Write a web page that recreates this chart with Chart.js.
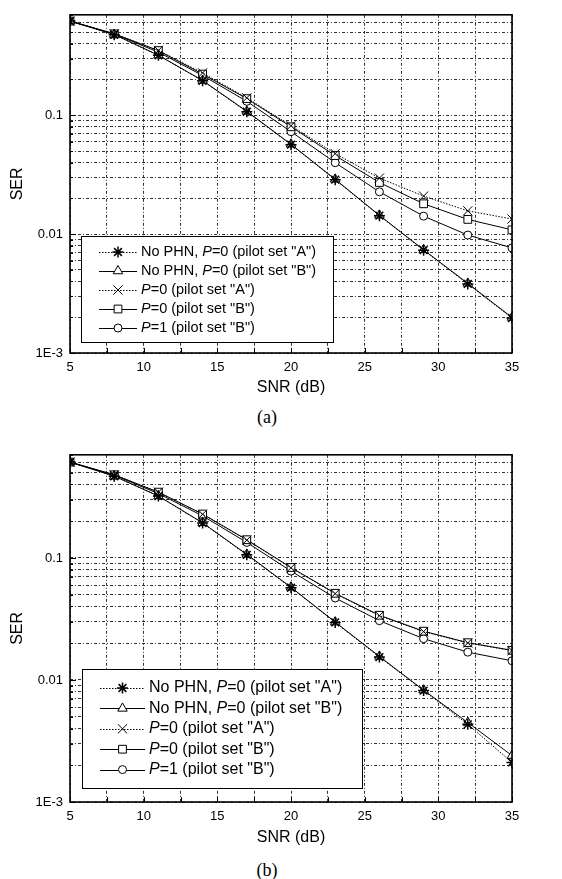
<!DOCTYPE html>
<html lang="en">
<head>
<meta charset="UTF-8">
<title>SER vs SNR</title>
<script src="https://cdn.jsdelivr.net/npm/chart.js"></script>
<style>
    body {
        margin: 0;
        background: #ffffff;
        width: 562px;
        height: 879px;
        position: relative;
        overflow: hidden;
        font-family: "Liberation Sans", Arial, sans-serif;
    }
    .box {
        position: absolute;
        left: 0;
        width: 562px;
    }
    #boxA { top: 0; height: 400px; }
    #boxB { top: 440px; height: 410px; }
    .caption {
        position: absolute;
        font-family: "Liberation Serif", "Times New Roman", serif;
        font-size: 18px;
        width: 60px;
        text-align: center;
        line-height: 20px;
    }
    #capA { left: 237px; top: 407px; }
    #capB { left: 237px; top: 860px; }
</style>
</head>
<body>
<div class="box" id="boxA"><canvas id="chartA"></canvas></div>
<div class="caption" id="capA">(a)</div>
<div class="box" id="boxB"><canvas id="chartB"></canvas></div>
<div class="caption" id="capB">(b)</div>

<script>
// SNR points (dB)
const snr = [5, 8, 11, 14, 17, 20, 23, 26, 29, 32, 35];

// figure (a)
const a_noPhnA = [0.62, 0.476, 0.319, 0.195, 0.107, 0.0566, 0.0287, 0.0143, 0.00733, 0.00381, 0.00197];
const a_noPhnB = [0.62, 0.478, 0.320, 0.196, 0.108, 0.0570, 0.0289, 0.0144, 0.00738, 0.00385, 0.00199];
const a_p0A    = [0.62, 0.485, 0.351, 0.227, 0.140, 0.0816, 0.0476, 0.0296, 0.0209, 0.0157, 0.0134];
const a_p0B    = [0.62, 0.484, 0.350, 0.222, 0.138, 0.0800, 0.0458, 0.0272, 0.0180, 0.0133, 0.01086];
const a_p1B    = [0.62, 0.482, 0.340, 0.216, 0.131, 0.0728, 0.0399, 0.0227, 0.01417, 0.00982, 0.00766];

// figure (b)
const b_noPhnA = [0.61, 0.467, 0.321, 0.193, 0.106, 0.0570, 0.0296, 0.0154, 0.00819, 0.00433, 0.00211];
const b_noPhnB = [0.61, 0.468, 0.322, 0.194, 0.107, 0.0575, 0.0298, 0.0156, 0.00825, 0.00448, 0.00240];
const b_p0A    = [0.61, 0.480, 0.346, 0.228, 0.140, 0.0830, 0.0510, 0.0336, 0.0249, 0.0201, 0.0174];
const b_p0B    = [0.61, 0.480, 0.346, 0.229, 0.141, 0.0835, 0.0513, 0.0339, 0.0251, 0.0202, 0.0175];
const b_p1B    = [0.61, 0.477, 0.337, 0.221, 0.134, 0.0780, 0.0470, 0.0306, 0.0218, 0.0169, 0.01436];

// axis ticks / gridlines
const xGrid = [5, 7.5, 10, 12.5, 15, 17.5, 20, 22.5, 25, 27.5, 30, 32.5, 35];
const xLabels = ['5', '', '10', '', '15', '', '20', '', '25', '', '30', '', '35'];
const yGrid = [0.001, 0.002, 0.003, 0.004, 0.005, 0.006, 0.007, 0.008, 0.009,
               0.01, 0.02, 0.03, 0.04, 0.05, 0.06, 0.07, 0.08, 0.09,
               0.1, 0.2, 0.3, 0.4, 0.5, 0.6, 0.7];
const yLabels = ['1E-3', '', '', '', '', '', '', '', '',
                 '0.01', '', '', '', '', '', '', '', '',
                 '0.1', '', '', '', '', '', ''];

const seriesNames = [
    [['No PHN, ', false], ['P', true], ['=0 (pilot set "A")', false]],
    [['No PHN, ', false], ['P', true], ['=0 (pilot set "B")', false]],
    [['P', true], ['=0 (pilot set "A")', false]],
    [['P', true], ['=0 (pilot set "B")', false]],
    [['P', true], ['=1 (pilot set "B")', false]]
];
const markers = ['star', 'triangle', 'crossRot', 'rect', 'circle'];
const markerSize = [5.5, 5.5, 6.5, 5.5, 4];
const dotted = [true, false, true, false, false];

const gridColor = '#333333';
const gridDash = [3, 2, 1, 2];

function makeDatasets(list) {
    return list.map((vals, i) => ({
        label: seriesNames[i].map(p => p[0]).join(''),
        data: vals.map((v, k) => ({ x: snr[k], y: v })),
        borderColor: '#000000',
        borderWidth: 1,
        borderDash: dotted[i] ? [1.5, 1.5] : [],
        backgroundColor: '#ffffff',
        pointStyle: markers[i],
        pointRadius: markerSize[i],
        pointBorderWidth: markers[i] === 'star' ? 1.5 : 1,
        pointBorderColor: '#000000',
        pointBackgroundColor: '#ffffff',
        tension: 0,
        fill: false
    }));
}

// frame and inner tick marks
const framePlugin = {
    id: 'frame',
    afterDraw(chart) {
        const ctx = chart.ctx;
        const a = chart.chartArea;
        const xs = chart.scales.x, ys = chart.scales.y;
        ctx.save();
        ctx.strokeStyle = '#000';
        ctx.lineWidth = 1;
        ctx.setLineDash([]);
        xGrid.forEach(v => {
            const px = Math.round(xs.getPixelForValue(v)) + 0.5;
            ctx.beginPath();
            ctx.moveTo(px, a.bottom);
            ctx.lineTo(px, a.bottom - 5);
            ctx.stroke();
        });
        yGrid.forEach((v, i) => {
            const py = Math.round(ys.getPixelForValue(v)) + 0.5;
            const len = yLabels[i] ? 6 : 3;
            ctx.beginPath();
            ctx.moveTo(a.left, py);
            ctx.lineTo(a.left + len, py);
            ctx.stroke();
        });
        ctx.lineWidth = 1.6;
        ctx.strokeRect(a.left, a.top, a.right - a.left, a.bottom - a.top);
        ctx.restore();
    }
};

// legend box inside the plot area
const boxLegendPlugin = {
    id: 'boxLegend',
    afterDraw(chart, args, opts) {
        const ctx = chart.ctx;
        const a = chart.chartArea;
        const x0 = a.left + opts.dx;
        const y1 = a.bottom - opts.dy;
        const y0 = y1 - opts.h;
        ctx.save();
        ctx.fillStyle = '#fff';
        ctx.fillRect(x0, y0, opts.w, opts.h);
        ctx.strokeStyle = '#000';
        ctx.lineWidth = 1;
        ctx.setLineDash([]);
        ctx.strokeRect(x0 + 0.5, y0 + 0.5, opts.w, opts.h);
        chart.data.datasets.forEach((ds, i) => {
            const cy = y0 + opts.first + i * opts.row;
            const lx0 = x0 + opts.lineStart;
            const lx1 = lx0 + opts.lineLen;
            ctx.strokeStyle = '#000';
            ctx.lineWidth = 1;
            ctx.setLineDash(dotted[i] ? [1.5, 1.5] : []);
            ctx.beginPath();
            ctx.moveTo(lx0, Math.round(cy) + 0.5);
            ctx.lineTo(lx1, Math.round(cy) + 0.5);
            ctx.stroke();
            ctx.setLineDash([]);
            ctx.fillStyle = '#fff';
            ctx.lineWidth = markers[i] === 'star' ? 1.5 : 1;
            Chart.helpers.drawPoint(ctx, {
                pointStyle: markers[i],
                radius: markerSize[i],
                borderWidth: ctx.lineWidth,
                rotation: 0
            }, (lx0 + lx1) / 2, cy);
            let tx = lx1 + 4;
            ctx.fillStyle = '#000';
            ctx.textBaseline = 'middle';
            seriesNames[i].forEach(([t, it]) => {
                ctx.font = (it ? 'italic ' : '') + opts.font + 'px "Liberation Sans", Arial, sans-serif';
                ctx.fillText(t, tx, cy);
                tx += ctx.measureText(t).width;
            });
        });
        ctx.restore();
    }
};

function makeChart(id, list, padTop, xHeight, legendOpts) {
    return new Chart(document.getElementById(id), {
        type: 'line',
        data: { datasets: makeDatasets(list) },
        options: {
            responsive: true,
            maintainAspectRatio: false,
            animation: false,
            layout: { padding: { top: padTop, right: 50, bottom: 0, left: 0 } },
            plugins: {
                legend: { display: false },
                tooltip: { enabled: false },
                boxLegend: legendOpts
            },
            scales: {
                x: {
                    type: 'linear',
                    min: 5,
                    max: 35,
                    afterBuildTicks: s => { s.ticks = xGrid.map(v => ({ value: v })); },
                    afterFit: s => { s.height = xHeight; },
                    ticks: {
                        autoSkip: false,
                        maxRotation: 0,
                        padding: 7,
                        color: '#000',
                        font: { family: '"Liberation Sans", Arial, sans-serif', size: 13 },
                        callback: (v, i) => xLabels[i]
                    },
                    grid: { color: gridColor, lineWidth: 1, drawTicks: false },
                    border: { display: false, dash: gridDash },
                    title: {
                        display: true,
                        text: 'SNR (dB)',
                        color: '#000',
                        font: { family: '"Liberation Sans", Arial, sans-serif', size: 16 },
                        padding: { top: 0, bottom: 3 }
                    }
                },
                y: {
                    type: 'logarithmic',
                    min: 0.001,
                    max: 0.7,
                    afterBuildTicks: s => { s.ticks = yGrid.map(v => ({ value: v })); },
                    afterFit: s => { s.width = 70; },
                    ticks: {
                        autoSkip: false,
                        padding: 7,
                        color: '#000',
                        font: { family: '"Liberation Sans", Arial, sans-serif', size: 13 },
                        callback: (v, i) => yLabels[i]
                    },
                    grid: { color: gridColor, lineWidth: 1, drawTicks: false },
                    border: { display: false, dash: gridDash },
                    title: {
                        display: true,
                        text: 'SER',
                        color: '#000',
                        font: { family: '"Liberation Sans", Arial, sans-serif', size: 16 },
                        padding: { top: 8, bottom: 0 }
                    }
                }
            }
        },
        plugins: [framePlugin, boxLegendPlugin]
    });
}

const chartA = makeChart('chartA', [a_noPhnA, a_noPhnB, a_p0A, a_p0B, a_p1B], 8, 47,
    { dx: 11, dy: 11, w: 252, h: 106, first: 16, row: 19, lineStart: 18, lineLen: 38, font: 14.5 });
const chartB = makeChart('chartB', [b_noPhnA, b_noPhnB, b_p0A, b_p0B, b_p1B], 13, 48,
    { dx: 12, dy: 14, w: 280, h: 119, first: 19, row: 20.4, lineStart: 18, lineLen: 45, font: 16 });
</script>
</body>
</html>
